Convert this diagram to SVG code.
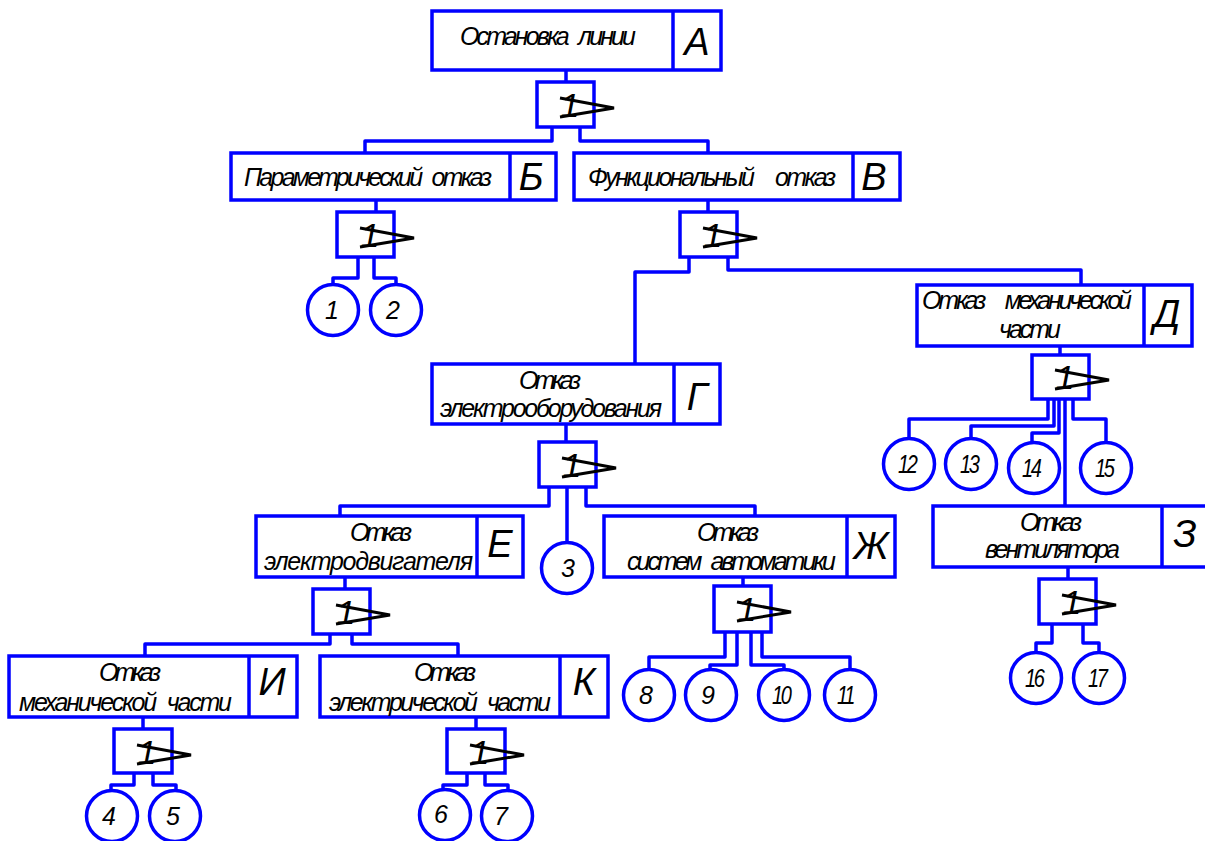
<svg xmlns="http://www.w3.org/2000/svg" width="1205" height="841" viewBox="0 0 1205 841">
<style>
rect,circle,.c,line.d{fill:none;stroke:#0000ff;stroke-width:3.5}
rect,circle{fill:#fff}
.c{stroke-linejoin:round}
text{font-family:"Liberation Sans",Arial,sans-serif;font-style:italic;fill:#000;white-space:pre}
.t{font-size:25px;word-spacing:7px}
.l{font-size:38px;text-anchor:middle}
.n{font-size:34px;text-anchor:middle}
.o{font-size:25px;text-anchor:middle}
.w{font-size:25px;letter-spacing:-3px}
.s{fill:none;stroke:#000;stroke-width:3}
</style>
<defs>
<path id="mark" class="s" d="M23 16L77 26L23 35"/>
</defs>
<rect width="1205" height="841" style="stroke:none"/>
<g id="connectors">
<path class="c" d="M566 71V82M552 127V141H365V153M580 127V141H708V153"/>
<path class="c" d="M376 200V212M358 257V278H333V284M374 257V278H396V284"/>
<path class="c" d="M708 200V212M689 257V272H635V364M728 257V270H1081V290"/>
<path class="c" d="M566 424V441M549 487V506H340V516M567 487V542M586 487V506H755V516"/>
<path class="c" d="M1060 346V355M1048 399V419H909V438M1054 399V426H971V438M1059 399V433H1032V442M1065 399V506M1073 399V419H1106V442"/>
<path class="c" d="M345 577V589M330 634V644H145V656M352 634V644H458V656"/>
<path class="c" d="M743 577V586M725 632V657H649V669M737 632V665H710V669M751 632V665H784V669M762 632V657H850V669"/>
<path class="c" d="M1068 567V579M1052 624V643H1036V652M1083 624V643H1099V652"/>
<path class="c" d="M143 717V729M134 773V785H111V790M153 773V785H176V790"/>
<path class="c" d="M476 717V729M467 773V785H443V790M485 773V785H508V790"/>
</g>
<g id="node-a"><rect x="432" y="11" width="289" height="59"/><line class="d" x1="673" y1="11" x2="673" y2="70"/><text class="t" x="460" y="45" textLength="176">Остановка линии</text><text class="l" x="697" y="55">А</text></g>
<g id="gate-a"><rect x="537" y="82" width="57" height="45"/><use href="#mark" x="537" y="82"/><text class="n" x="570" y="117">1</text></g>
<g id="node-b"><rect x="231" y="153" width="325" height="47"/><line class="d" x1="510" y1="153" x2="510" y2="200"/><text class="t" x="244" y="186" textLength="248">Параметрический отказ</text><text class="l" x="531" y="190">Б</text></g>
<g id="node-v"><rect x="574" y="153" width="326" height="47"/><line class="d" x1="853" y1="153" x2="853" y2="200"/><text class="t" x="588" y="186" textLength="248">Функциональный  отказ</text><text class="l" x="874" y="190">В</text></g>
<g id="gate-b"><rect x="337" y="212" width="57" height="45"/><use href="#mark" x="337" y="212"/><text class="n" x="370" y="247">1</text></g>
<g id="gate-v"><rect x="680" y="212" width="57" height="45"/><use href="#mark" x="680" y="212"/><text class="n" x="713" y="247">1</text></g>
<g id="event-1"><circle cx="333" cy="310" r="25.5"/><text class="o" x="332" y="319">1</text></g>
<g id="event-2"><circle cx="396" cy="310" r="25.5"/><text class="o" x="393" y="319">2</text></g>
<g id="node-d"><rect x="917" y="285" width="275" height="61"/><line class="d" x1="1144" y1="285" x2="1144" y2="346"/><text class="t" x="922" y="309" textLength="210">Отказ  механической</text><text class="t" x="999" y="338" textLength="62">части</text><text class="l" x="1167" y="327">Д</text></g>
<g id="gate-d"><rect x="1032" y="355" width="57" height="44"/><use href="#mark" x="1032" y="354"/><text class="n" x="1065" y="389">1</text></g>
<g id="event-12"><circle cx="909" cy="464" r="25.5"/><text class="w" transform="translate(898 473) scale(.8 1)">12</text></g>
<g id="event-13"><circle cx="971" cy="464" r="25.5"/><text class="w" transform="translate(960 473) scale(.8 1)">13</text></g>
<g id="event-14"><circle cx="1034" cy="468" r="25.5"/><text class="w" transform="translate(1022 477) scale(.8 1)">14</text></g>
<g id="event-15"><circle cx="1106" cy="468" r="25.5"/><text class="w" transform="translate(1095 477) scale(.8 1)">15</text></g>
<g id="node-g"><rect x="432" y="364" width="288" height="60"/><line class="d" x1="674" y1="364" x2="674" y2="424"/><text class="t" x="519" y="389" textLength="62">Отказ</text><text class="t" x="440" y="417" textLength="222">электрооборудования</text><text class="l" x="697" y="410">Г</text></g>
<g id="gate-g"><rect x="539" y="442" width="57" height="45"/><use href="#mark" x="539" y="442"/><text class="n" x="572" y="477">1</text></g>
<g id="node-e"><rect x="256" y="516" width="267" height="61"/><line class="d" x1="477" y1="516" x2="477" y2="577"/><text class="t" x="350" y="541" textLength="62">Отказ</text><text class="t" x="264" y="570" textLength="209">электродвигателя</text><text class="l" x="500" y="557">Е</text></g>
<g id="event-3"><circle cx="567" cy="568" r="25.5"/><text class="o" x="568" y="577">3</text></g>
<g id="node-zh"><rect x="604" y="516" width="291" height="61"/><line class="d" x1="847" y1="516" x2="847" y2="577"/><text class="t" x="697" y="541" textLength="62">Отказ</text><text class="t" x="627" y="570" textLength="209">систем автоматики</text><text class="l" x="871" y="559">Ж</text></g>
<g id="node-z"><rect x="933" y="506" width="275" height="61"/><line class="d" x1="1162" y1="506" x2="1162" y2="567"/><text class="t" x="1020" y="531" textLength="62">Отказ</text><text class="t" x="985" y="558" textLength="135">вентилятора</text><text class="l" x="1185" y="547">З</text></g>
<g id="gate-z"><rect x="1039" y="579" width="57" height="45"/><use href="#mark" x="1039" y="579"/><text class="n" x="1072" y="614">1</text></g>
<g id="gate-e"><rect x="313" y="589" width="57" height="45"/><use href="#mark" x="313" y="589"/><text class="n" x="346" y="624">1</text></g>
<g id="gate-zh"><rect x="714" y="586" width="57" height="46"/><use href="#mark" x="714" y="586"/><text class="n" x="747" y="621">1</text></g>
<g id="event-8"><circle cx="649" cy="695" r="25.5"/><text class="o" x="646" y="704">8</text></g>
<g id="event-9"><circle cx="711" cy="695" r="25.5"/><text class="o" x="708" y="704">9</text></g>
<g id="event-10"><circle cx="784" cy="695" r="25.5"/><text class="w" transform="translate(772 704) scale(.8 1)">10</text></g>
<g id="event-11"><circle cx="850" cy="695" r="25.5"/><text class="w" transform="translate(837 704) scale(.8 1)">11</text></g>
<g id="event-16"><circle cx="1036" cy="678" r="25.5"/><text class="w" transform="translate(1025 687) scale(.8 1)">16</text></g>
<g id="event-17"><circle cx="1099" cy="678" r="25.5"/><text class="w" transform="translate(1088 687) scale(.8 1)">17</text></g>
<g id="node-i"><rect x="9" y="656" width="288" height="61"/><line class="d" x1="249" y1="656" x2="249" y2="717"/><text class="t" x="99" y="681" textLength="62">Отказ</text><text class="t" x="19" y="711" textLength="213">механической части</text><text class="l" x="272" y="695">И</text></g>
<g id="node-k"><rect x="320" y="656" width="288" height="61"/><line class="d" x1="560" y1="656" x2="560" y2="717"/><text class="t" x="414" y="681" textLength="62">Отказ</text><text class="t" x="329" y="711" textLength="222">электрической части</text><text class="l" x="584" y="695">К</text></g>
<g id="gate-i"><rect x="114" y="729" width="58" height="44"/><use href="#mark" x="114" y="729"/><text class="n" x="147" y="764">1</text></g>
<g id="gate-k"><rect x="447" y="729" width="58" height="44"/><use href="#mark" x="447" y="729"/><text class="n" x="480" y="764">1</text></g>
<g id="event-4"><circle cx="112" cy="816" r="25.5"/><text class="o" x="109" y="825">4</text></g>
<g id="event-5"><circle cx="175" cy="816" r="25.5"/><text class="o" x="173" y="825">5</text></g>
<g id="event-6"><circle cx="445" cy="815" r="25.5"/><text class="o" x="441" y="823">6</text></g>
<g id="event-7"><circle cx="507" cy="816" r="25.5"/><text class="o" x="501" y="825">7</text></g>
</svg>
